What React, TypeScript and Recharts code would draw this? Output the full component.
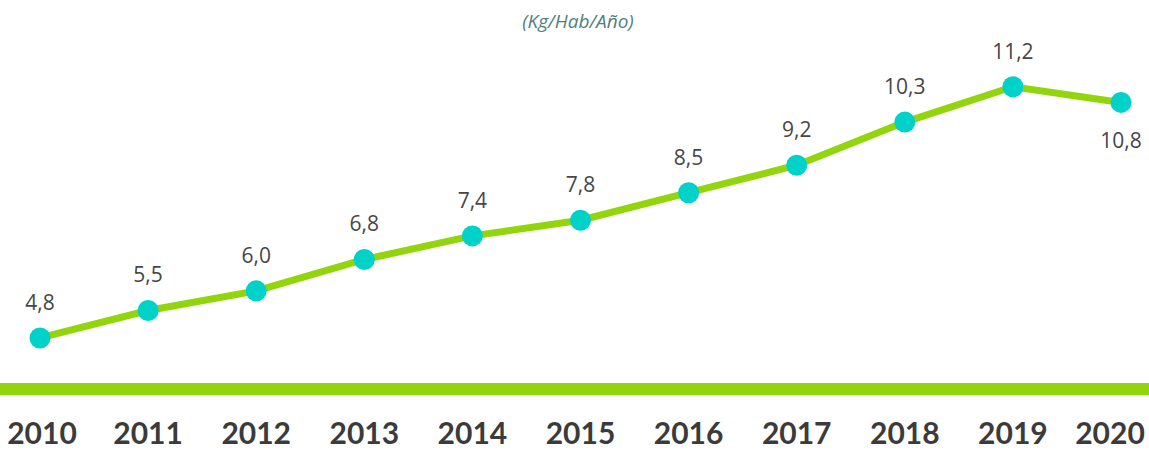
import React from "react";
import { LineChart, Line, XAxis, YAxis, LabelList } from "recharts";

const years = ["2010", "2011", "2012", "2013", "2014", "2015", "2016", "2017", "2018", "2019", "2020"];
const values = [4.8, 5.5, 6.0, 6.8, 7.4, 7.8, 8.5, 9.2, 10.3, 11.2, 10.8];
const belowLabels = ["2020"];
const subtitle = "(Kg/Hab/Año)";

const data = years.map((y, i) => ({ year: y, value: values[i] }));

const fmt = (v: number) => v.toFixed(1).replace(".", ",");

const W = 1149;
const H = 451;

const YearTick = (props: any) => {
  const { x, y, payload } = props;
  const half = 35;
  const cx = Math.min(Math.max(x, half + 7), W - half - 4);
  return (
    <text
      x={cx}
      y={y + 49}
      textAnchor="middle"
      fontFamily="Lato, 'Open Sans', sans-serif"
      fontWeight={700}
      fontSize={30}
      fill="#3b3b3b"
    >
      {payload.value}
    </text>
  );
};

const ValueLabel = (props: any) => {
  const { x, y, value, index } = props;
  const below = belowLabels.includes(years[index]);
  return (
    <text
      x={x}
      y={below ? y + 38 : y - 36}
      dominantBaseline="central"
      textAnchor="middle"
      fontFamily="'Open Sans', 'Noto Sans', sans-serif"
      fontSize={21}
      fill="#474747"
    >
      {fmt(value)}
    </text>
  );
};

export default function App() {
  return (
    <div style={{ position: "fixed", top: 0, left: 0, width: W, height: H, background: "#fff" }}>
      <div
        style={{
          position: "absolute",
          top: 9,
          left: 478,
          width: 200,
          textAlign: "center",
          fontFamily: "'Open Sans', 'Noto Sans', sans-serif",
          fontStyle: "italic",
          fontSize: 19,
          lineHeight: "24px",
          color: "#4f7f7c",
        }}
      >
        {subtitle}
      </div>
      <LineChart width={W} height={H} data={data} margin={{ top: 20, right: 0, bottom: 0, left: 0 }}>
        <XAxis
          dataKey="year"
          height={62}
          padding={{ left: 40, right: 28 }}
          axisLine={{ stroke: "#93d50d", strokeWidth: 12 }}
          tickLine={false}
          tickSize={6}
          tickMargin={0}
          interval={0}
          tick={<YearTick />}
        />
        <YAxis hide domain={[3.5, 12.9]} />
        <Line
          type="linear"
          dataKey="value"
          stroke="#93d50d"
          strokeWidth={7}
          dot={{ r: 10.5, fill: "#00d2c9", stroke: "none" }}
          activeDot={false}
          isAnimationActive={false}
        >
          <LabelList dataKey="value" content={<ValueLabel />} />
        </Line>
      </LineChart>
    </div>
  );
}
